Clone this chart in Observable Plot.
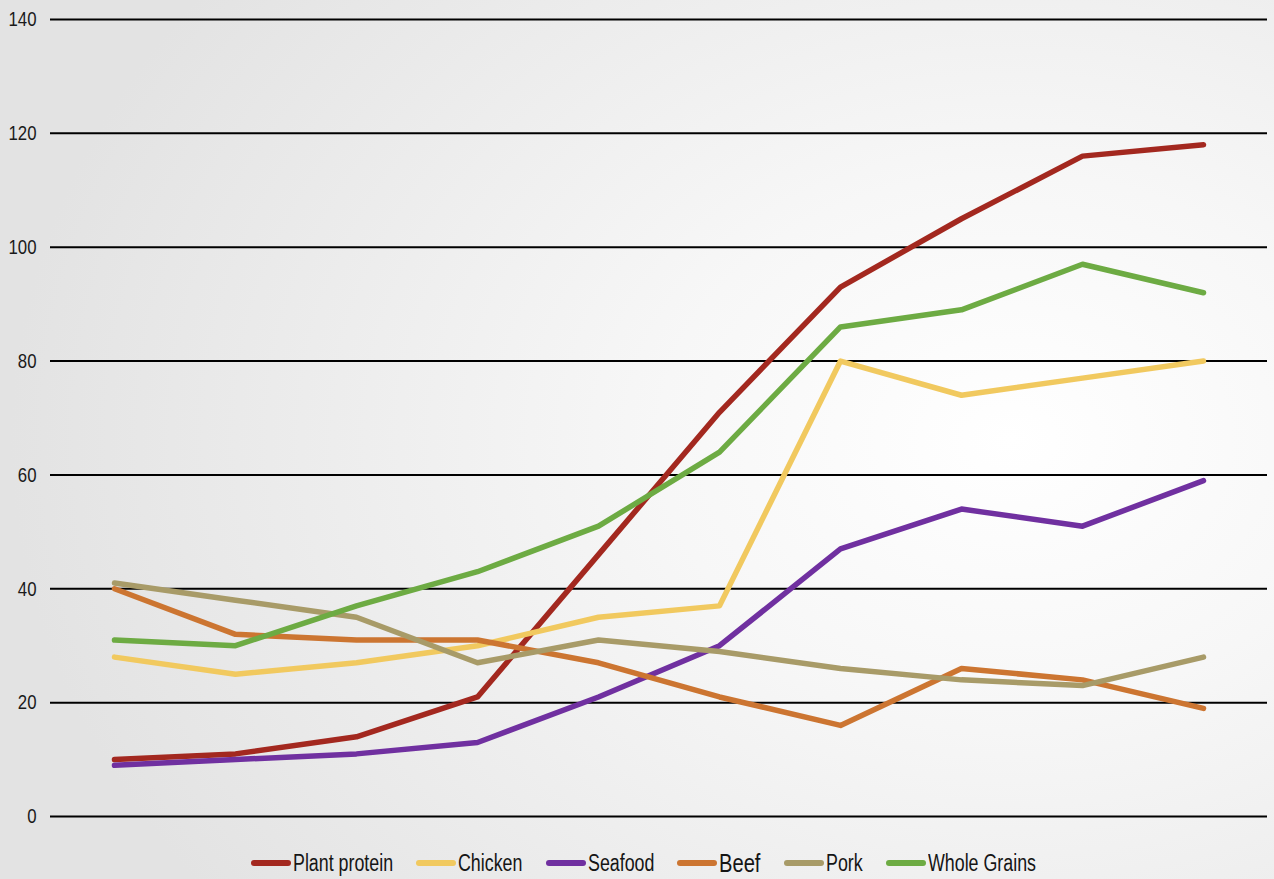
<!DOCTYPE html>
<html>
<head>
<meta charset="utf-8">
<script src="https://cdn.jsdelivr.net/npm/d3@7"></script>
<script src="https://cdn.jsdelivr.net/npm/@observablehq/plot@0.6"></script>
<style>
  html, body { margin: 0; padding: 0; }
  body {
    width: 1274px;
    height: 879px;
    overflow: hidden;
    background: radial-gradient(ellipse 1000px 760px at 1010px 440px, #ffffff 0%, #f7f7f7 35%, #e3e3e3 100%);
    font-family: "Liberation Sans Narrow", "Arial Narrow", "Liberation Sans", Arial, sans-serif;
  }
  #chart svg { display: block; }
  #legend {
    display: flex;
    justify-content: center;
    align-items: center;
    gap: 23px;
    margin-top: 16px;
    padding-left: 13px;
    height: 24px;
    font-size: 23px;
    color: #151515;
  }
  .item { display: flex; align-items: center; gap: 2px; }
  .swatch { width: 40px; height: 6px; border-radius: 3px; }
  .label { display: inline-block; transform: scaleX(0.775); transform-origin: 0 50%; white-space: nowrap; }
</style>
</head>
<body>
<div id="chart"></div>
<div id="legend"></div>
<script>
// Ten consecutive periods (no labels are drawn on the category axis)
const periods = [1, 2, 3, 4, 5, 6, 7, 8, 9, 10];

const seriesNames = ["Plant protein", "Chicken", "Seafood", "Beef", "Pork", "Whole Grains"];
const seriesColors = ["#a3281f", "#f1c95f", "#7030a0", "#cc7531", "#a89b68", "#6dab43"];

const plantProtein = [10, 11, 14, 21, 46, 71, 93, 105, 116, 118];
const chicken      = [28, 25, 27, 30, 35, 37, 80, 74, 77, 80];
const seafood      = [9, 10, 11, 13, 21, 30, 47, 54, 51, 59];
const beef         = [40, 32, 31, 31, 27, 21, 16, 26, 24, 19];
const pork         = [41, 38, 35, 27, 31, 29, 26, 24, 23, 28];
const wholeGrains  = [31, 30, 37, 43, 51, 64, 86, 89, 97, 92];

const yTicks = [0, 20, 40, 60, 80, 100, 120, 140];

const seriesValues = [plantProtein, chicken, seafood, beef, pork, wholeGrains];

// Long-format rows: one per series per period
const rows = seriesNames.flatMap((name, i) =>
  periods.map((p, j) => ({ series: name, period: p, value: seriesValues[i][j] }))
);

const chart = Plot.plot({
  width: 1274,
  height: 835,
  marginTop: 19,
  marginBottom: 19,
  marginLeft: 50,
  marginRight: 7,
  style: {
    background: "transparent",
    fontFamily: '"Liberation Sans Narrow", "Arial Narrow", "Liberation Sans", Arial, sans-serif',
    fontSize: "21px",
    color: "#1a1a1a"
  },
  x: { type: "point", domain: periods, padding: 0.5, axis: null },
  y: { domain: [0, 140], axis: null },
  color: { domain: seriesNames, range: seriesColors },
  marks: [
    Plot.ruleY(yTicks, { stroke: "#000", strokeWidth: 2 }),
    Plot.axisY({ ticks: yTicks, tickSize: 0, tickPadding: 14, label: null, fontSize: 21 }),
    Plot.line(rows, {
      x: "period",
      y: "value",
      z: "series",
      stroke: "series",
      strokeWidth: 5.5,
      strokeLinejoin: "round",
      strokeLinecap: "round"
    })
  ]
});
document.getElementById("chart").append(chart);

// Condense the tick labels horizontally (end-anchored, so the right edge stays put)
d3.select(chart).selectAll('g[aria-label="y-axis tick label"] text').each(function () {
  const t = d3.select(this);
  const tr = t.attr("transform") || "";
  t.attr("transform", tr + " scale(0.8,1)");
});

// Legend below the chart
const legend = document.getElementById("legend");
const squeeze = 0.775;
seriesNames.forEach((name, i) => {
  const item = document.createElement("div");
  item.className = "item";
  const sw = document.createElement("span");
  sw.className = "swatch";
  sw.style.background = seriesColors[i];
  const label = document.createElement("span");
  label.className = "label";
  label.textContent = name;
  if (name === "Beef") label.style.fontSize = "26px";
  item.append(sw, label);
  legend.append(item);
  // shrink the layout box to the condensed width
  const w = label.getBoundingClientRect().width / squeeze;
  label.style.marginRight = (-(w * (1 - squeeze))).toFixed(1) + "px";
});
</script>
</body>
</html>
